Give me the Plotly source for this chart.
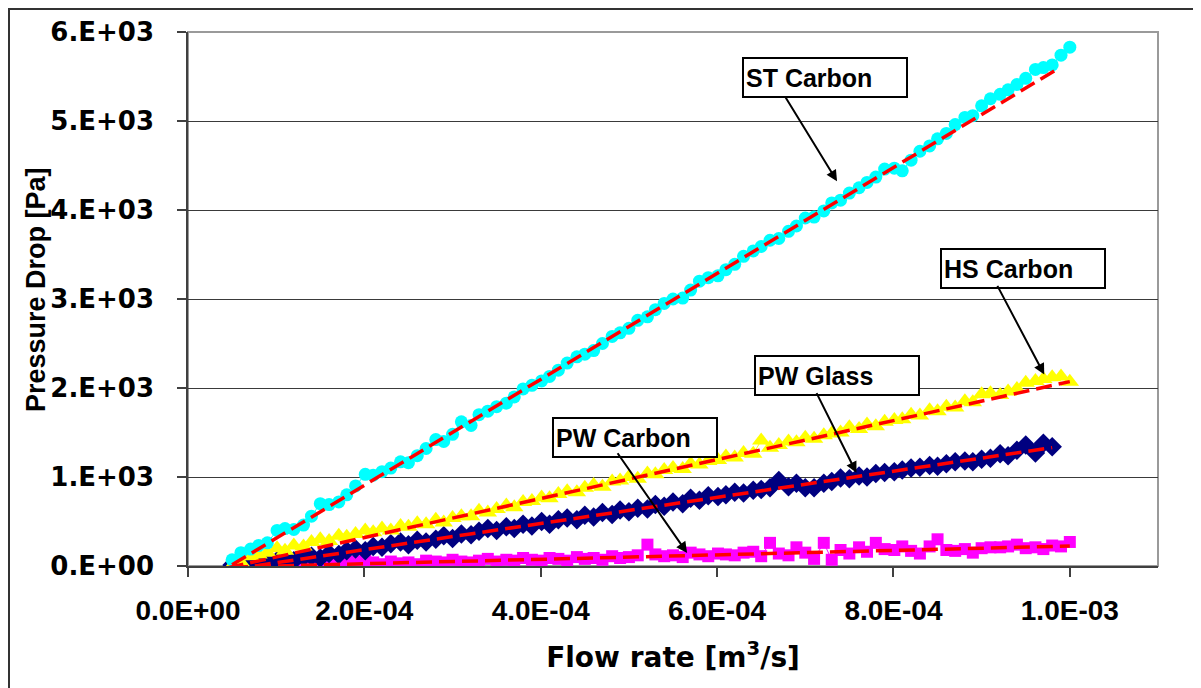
import plotly.graph_objects as go

# ---------------- data ----------------
flow_rate = [5.0e-5, 6.0e-5, 7.1e-5, 8.0e-5, 9.0e-5, 10.1e-5, 11.0e-5, 12.0e-5, 13.1e-5, 14.0e-5,
             15.0e-5, 16.0e-5, 17.1e-5, 18.0e-5, 19.0e-5, 20.1e-5, 21.0e-5, 22.0e-5, 23.0e-5, 24.1e-5,
             25.0e-5, 26.0e-5, 27.0e-5, 28.1e-5, 29.0e-5, 30.0e-5, 31.0e-5, 32.1e-5, 33.0e-5, 34.0e-5,
             35.0e-5, 36.1e-5, 37.0e-5, 38.0e-5, 39.0e-5, 40.1e-5, 41.0e-5, 42.0e-5, 43.0e-5, 44.1e-5,
             45.0e-5, 46.0e-5, 47.0e-5, 48.1e-5, 49.0e-5, 50.0e-5, 51.0e-5, 52.1e-5, 53.0e-5, 54.0e-5,
             55.0e-5, 56.1e-5, 57.0e-5, 58.0e-5, 59.0e-5, 60.1e-5, 61.0e-5, 62.0e-5, 63.0e-5, 64.1e-5,
             65.0e-5, 66.0e-5, 67.0e-5, 68.1e-5, 69.0e-5, 70.0e-5, 71.0e-5, 72.1e-5, 73.0e-5, 74.0e-5,
             75.0e-5, 76.1e-5, 77.0e-5, 78.0e-5, 79.0e-5, 80.1e-5, 81.0e-5, 82.0e-5, 83.0e-5, 84.1e-5,
             85.0e-5, 86.0e-5, 87.0e-5, 88.1e-5, 89.0e-5, 90.0e-5, 91.0e-5, 92.1e-5, 93.0e-5, 94.0e-5,
             95.0e-5, 96.1e-5, 97.0e-5, 98.0e-5, 99.0e-5, 100.0e-5]

st_carbon = [70, 150, 190, 230, 260, 400, 420, 410, 460, 560,
             700, 690, 720, 800, 900, 1030, 1020, 1060, 1100, 1170,
             1160, 1240, 1320, 1420, 1400, 1480, 1620, 1580, 1700, 1740,
             1790, 1830, 1900, 1990, 2030, 2080, 2130, 2200, 2280, 2350,
             2380, 2420, 2500, 2580, 2620, 2670, 2760, 2800, 2880, 2950,
             3000, 3010, 3100, 3200, 3240, 3260, 3330, 3390, 3480, 3540,
             3590, 3660, 3680, 3760, 3820, 3910, 3920, 3990, 4080, 4110,
             4190, 4250, 4310, 4370, 4460, 4470, 4440, 4560, 4660, 4720,
             4800, 4860, 4960, 5040, 5060, 5170, 5250, 5300, 5350, 5410,
             5480, 5580, 5600, 5630, 5740, 5830]

hs_carbon = [0, 40, 110, 130, 150, 200, 170, 230, 220, 270,
             300, 280, 340, 330, 360, 400, 380, 420, 400, 450,
             440, 480, 470, 520, 490, 540, 560, 560, 620, 600,
             640, 680, 660, 720, 730, 770, 760, 810, 840, 830,
             880, 910, 890, 950, 960, 1000, 980, 1040, 1030, 1080,
             1100, 1090, 1150, 1140, 1180, 1190, 1230, 1220, 1270, 1260,
             1410, 1330, 1360, 1400, 1390, 1440, 1430, 1470, 1490, 1500,
             1560, 1540, 1590, 1570, 1620, 1640, 1650, 1700, 1690, 1750,
             1740, 1790, 1780, 1850, 1840, 1930, 1940, 1920, 1960, 1990,
             2060, 2080, 2100, 2120, 2130, 2070]

pw_glass = [10, 20, 30, 40, 50, 60, 70, 60, 100, 110,
            90, 140, 130, 170, 190, 170, 220, 210, 250, 270,
            240, 290, 270, 300, 340, 310, 360, 350, 390, 420,
            400, 440, 420, 470, 450, 500, 470, 520, 540, 520,
            570, 550, 600, 580, 630, 610, 650, 640, 690, 670,
            720, 700, 760, 740, 790, 780, 800, 830, 820, 850,
            860, 880, 960, 890, 930, 880, 880, 930, 950, 990,
            980, 1010, 1000, 1040, 1050, 1060, 1080, 1100, 1110, 1130,
            1120, 1150, 1170, 1180, 1170, 1200, 1210, 1260, 1240, 1300,
            1360, 1270, 1380, 1340, None, None]

pw_carbon = [20, 40, 30, 60, 20, 40, 50, 10, 30, -20,
             60, 40, 10, 30, 50, 60, 40, 20, 50, 30,
             40, 20, 60, 50, 40, 70, 50, 40, 60, 80,
             50, 70, 60, 90, 70, 60, 90, 80, 60, 100,
             80, 90, 70, 110, 90, 100, 120, 240, 130, 110,
             120, 100, 150, 130, 110, 140, 130, 120, 150, 160,
             110, 260, 140, 120, 210, 150, 80, 260, 70, 180,
             140, 210, 160, 260, 190, 180, 220, 170, 140, 220,
             300, 180, 170, 190, 150, 200, 210, 210, 220, 240,
             200, 210, 190, 230, 220, 270]

# linear trend lines (start / end of each fit)
st_fit_x = [5.0e-5, 9.84e-4]
st_fit_y = [14, 5572]
hs_fit_x = [4.5e-5, 1.0e-3]
hs_fit_y = [-20, 2072]
glass_fit_x = [5.0e-5, 9.8e-4]
glass_fit_y = [-37, 1330]
pwc_fit_x = [5.0e-5, 1.0e-3]
pwc_fit_y = [-12, 225]

x_tick_vals = [0, 2e-4, 4e-4, 6e-4, 8e-4, 1e-3]
x_tick_text = ["0.0E+00", "2.0E-04", "4.0E-04", "6.0E-04", "8.0E-04", "1.0E-03"]
y_tick_vals = [0, 1000, 2000, 3000, 4000, 5000, 6000]
y_tick_text = ["0.E+00", "1.E+03", "2.E+03", "3.E+03", "4.E+03", "5.E+03", "6.E+03"]

series = [
    ("PW Carbon", pw_carbon, "#FF00FF", "square", 12),
    ("PW Glass", pw_glass, "#000080", "diamond", 15),
    ("HS Carbon", hs_carbon, "#FFFF00", "triangle-up", 16),
    ("ST Carbon", st_carbon, "#00FFFF", "circle", 13),
]
fits = [(pwc_fit_x, pwc_fit_y), (glass_fit_x, glass_fit_y), (hs_fit_x, hs_fit_y), (st_fit_x, st_fit_y)]

# ---------------- figure ----------------
fig = go.Figure()
for name, ys, col, sym, sz in series:
    fig.add_trace(go.Scatter(
        x=flow_rate, y=ys, mode="lines+markers", name=name,
        line=dict(color=col, width=1),
        marker=dict(symbol=sym, size=sz, color=col, line=dict(width=0)),
        connectgaps=False, showlegend=False,
    ))
for fx, fy in fits:
    fig.add_trace(go.Scatter(
        x=fx, y=fy, mode="lines", line=dict(color="#FF0000", width=3.5, dash="16px,7px"),
        showlegend=False,
    ))

FONT = "Liberation Sans, Arial, sans-serif"
WIDE = "DejaVu Sans, sans-serif"

# the page body has an 8px margin, so the figure is shrunk by 8px to keep the plot area in place
fig.update_layout(
    template="none",
    width=1193, height=680,
    margin=dict(l=180, r=43, t=24, b=122),
    paper_bgcolor="white", plot_bgcolor="white",
    font=dict(family=FONT, color="black"),
    xaxis=dict(
        range=[0, 1.1e-3], tickvals=x_tick_vals, ticktext=x_tick_text,
        showgrid=False, zeroline=False, showline=True, linecolor="#404040", linewidth=1.5,
        ticks="outside", ticklen=9, tickcolor="#404040", tickwidth=1.5,
        tickfont=dict(family=FONT, size=28, color="black", weight="bold"),
        ticklabelstandoff=10,
        title=dict(text="<b>Flow rate [m<sup>3</sup>/s]</b>", font=dict(family=WIDE, size=28, color="black"), standoff=22),
        automargin=False,
    ),
    yaxis=dict(
        range=[0, 6000], tickvals=y_tick_vals, ticktext=y_tick_text,
        showgrid=True, gridcolor="#3a3a3a", gridwidth=1,
        zeroline=False, showline=True, linecolor="#404040", linewidth=1.5,
        ticks="outside", ticklen=9, tickcolor="#404040", tickwidth=1.5,
        tickfont=dict(family=WIDE, size=26, color="black", weight="bold"),
        ticklabelstandoff=18,
        automargin=False,
    ),
)

# y-axis title as rotated text
fig.add_annotation(
    text="<b>Pressure Drop [Pa]</b>", xref="paper", yref="paper",
    x=(36 - 188) / 970, y=(566 - 290) / 534, textangle=-90, showarrow=False,
    xanchor="center", yanchor="middle", font=dict(family=FONT, size=27, color="black"),
)

# plot-area frame (top/right grey) and outer chart border
fig.add_shape(type="rect", xref="paper", yref="paper", x0=0, x1=1, y0=0, y1=1,
              line=dict(color="#9a9a9a", width=2), layer="below")
fig.add_shape(type="rect", xref="paper", yref="paper", x0=(9 - 188) / 970, x1=1.2,
              y0=-0.5, y1=(566 - 9) / 534, line=dict(color="#333333", width=2))

# label boxes
boxes = [
    ("ST Carbon", 0.571, 0.953),
    ("HS Carbon", 0.775, 0.5955),
    ("PW Glass", 0.584, 0.395),
    ("PW Carbon", 0.375, 0.279),
]
for txt, bx, by in boxes:
    fig.add_annotation(
        text="<b>" + txt + "</b>", xref="paper", yref="paper", x=bx, y=by,
        xanchor="left", yanchor="top", showarrow=False, align="left",
        width=158, height=33, bgcolor="white", bordercolor="black", borderwidth=2, borderpad=2,
        font=dict(family=FONT, size=25, color="black"),
    )

# arrows (tail -> head in data coordinates)
arrows = [
    (6.76e-4, 5293, 7.36e-4, 4324),
    (9.17e-4, 3164, 9.71e-4, 2151),
    (7.12e-4, 1959, 7.58e-4, 1047),
    (4.86e-4, 1284, 5.66e-4, 146),
]
for tx, ty, hx, hy in arrows:
    fig.add_annotation(
        text="", x=hx, y=hy, xref="x", yref="y", ax=tx, ay=ty, axref="x", ayref="y",
        showarrow=True, arrowhead=2, arrowsize=1.1, arrowwidth=2, arrowcolor="black",
    )

fig.write_html("out.html")
